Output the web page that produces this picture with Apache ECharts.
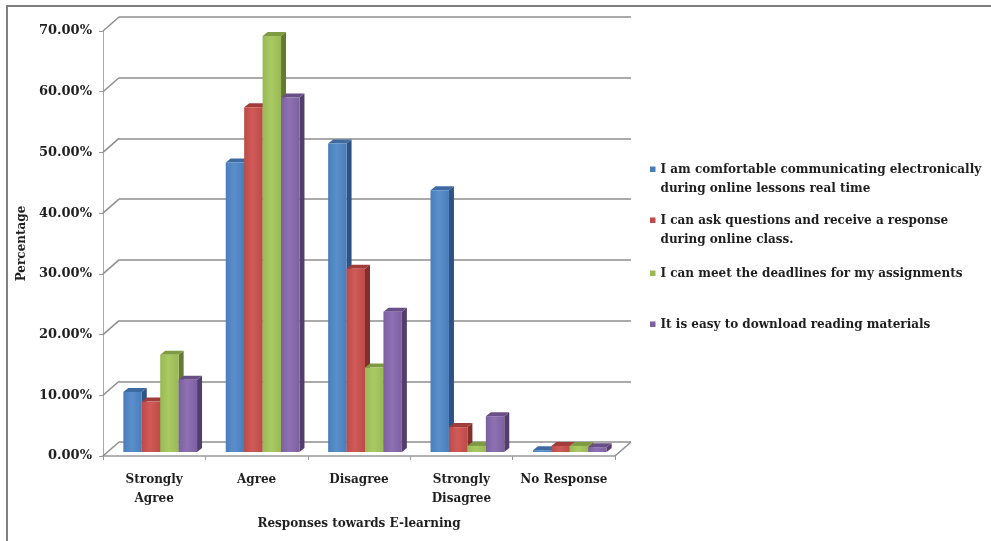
<!DOCTYPE html>
<html>
<head>
<meta charset="utf-8">
<script src="https://cdn.jsdelivr.net/npm/echarts@6/dist/echarts.min.js"></script>
<style>
  html, body { margin: 0; padding: 0; background: #ffffff; }
  #chart { width: 991px; height: 541px; }
</style>
</head>
<body>
<div id="chart"></div>
<script>
// Survey responses about e-learning (percent of respondents)
const categories = ['Strongly\nAgree', 'Agree', 'Disagree', 'Strongly\nDisagree', 'No Response'];
const seriesNames = [
  'I am comfortable communicating electronically\nduring online lessons real time',
  'I can ask questions and receive a response\nduring online class.',
  'I can meet the deadlines for my assignments',
  'It is easy to download reading materials'
];
const comfortable   = [9.9, 47.7, 50.8, 43.1, 0.3];
const askQuestions  = [8.3, 56.8, 30.2, 4.1, 1.0];
const meetDeadlines = [16.0, 68.5, 13.9, 1.0, 1.0];
const easyDownload  = [11.9, 58.4, 23.1, 5.9, 0.8];
const yTicks = [0, 10, 20, 30, 40, 50, 60, 70];

const seriesValues = [comfortable, askQuestions, meetDeadlines, easyDownload];
// front / top / side shades for each series
const palette = [
  { front: '#4a7ebb', light: '#5b8fcc', top: '#3d6aa0', side: '#2e5283' },
  { front: '#be4b48', light: '#d05a57', top: '#a03d3a', side: '#822f2d' },
  { front: '#98b954', light: '#a9ca63', top: '#7e9a43', side: '#627a32' },
  { front: '#7d60a0', light: '#8e71b2', top: '#684f87', side: '#523d6c' }
];

const FONT = 'DejaVu Serif';
const TEXT = '#1f1f1f';
const GRID_COLOR = '#8e8e8e';

// 3D look: back wall offset from the front plane, and bar depth
const WALL_DX = 16, WALL_DY = 14;
const BAR_DX = 5, BAR_DY = 4;
const BAR_PITCH = 0.18;   // share of a category band per bar

const chart = echarts.init(document.getElementById('chart'), null, { renderer: 'canvas' });

function barRenderer(k) {
  const c = palette[k];
  return function (params, api) {
    const cat = api.value(0);
    const v = api.value(1);
    const base = api.coord([cat, 0]);
    const top = api.coord([cat, v]);
    const band = api.size([1, 0])[0];
    const w = band * BAR_PITCH;
    const x0 = base[0] - 2 * w + k * w;
    const x1 = x0 + w;
    const yt = top[1], yb = base[1];
    return {
      type: 'group',
      children: [
        {
          type: 'polygon',
          shape: { points: [[x1, yt], [x1 + BAR_DX, yt - BAR_DY], [x1 + BAR_DX, yb - BAR_DY], [x1, yb]] },
          style: { fill: c.side }
        },
        {
          type: 'polygon',
          shape: { points: [[x0, yt], [x0 + BAR_DX, yt - BAR_DY], [x1 + BAR_DX, yt - BAR_DY], [x1, yt]] },
          style: { fill: c.top }
        },
        {
          type: 'rect',
          shape: { x: x0, y: yt, width: w, height: Math.max(yb - yt, 0) },
          style: {
            fill: new echarts.graphic.LinearGradient(0, 0, 1, 0, [
              { offset: 0, color: c.front },
              { offset: 0.45, color: c.light },
              { offset: 1, color: c.front }
            ])
          }
        }
      ]
    };
  };
}

// legend icon: small square beside the first text line
const LINE_H = 19;
function legendIcon(lines) {
  const h = LINE_H * lines;
  return 'path://M0,6.5H5.5V12H0Z M0,0H0.01V0.01H0Z M0,' + h + 'H0.01V' + (h - 0.01) + 'H0Z';
}
const legendTops = [160, 211, 264, 315];
const legends = seriesNames.map((name, i) => {
  const lines = name.split('\n').length;
  return {
    data: [name],
    left: 650,
    top: legendTops[i],
    padding: 0,
    orient: 'vertical',
    icon: legendIcon(lines),
    itemWidth: 5.5,
    itemHeight: LINE_H * lines,
    selectedMode: false,
    textStyle: { fontFamily: FONT, fontWeight: 'bold', fontSize: 12, color: TEXT, lineHeight: LINE_H }
  };
});

const axisTextStyle = { fontFamily: FONT, fontWeight: 'bold', fontSize: 12, color: TEXT };

const option = {
  animation: false,
  backgroundColor: '#ffffff',
  graphic: [{
    type: 'rect',
    shape: { x: 7, y: 6, width: 1200, height: 800 },
    style: { fill: null, stroke: '#808080', lineWidth: 2 },
    silent: true,
    z: 100
  }],
  legend: legends,
  grid: [
    // front plane: axis labels and floor edge
    { left: 103, top: 31, width: 512, height: 425 },
    // back wall: gridlines
    { left: 103 + WALL_DX, top: 31 - WALL_DY, width: 512, height: 425 },
    // bars sit part way back
    { left: 109, top: 27, width: 512, height: 425 }
  ],
  xAxis: [
    {
      gridIndex: 0,
      type: 'category',
      data: categories,
      boundaryGap: true,
      name: 'Responses towards E-learning',
      nameLocation: 'middle',
      nameGap: 62,
      nameTextStyle: axisTextStyle,
      axisLine: { lineStyle: { color: '#9a9a9a', width: 1.5 } },
      axisTick: { show: true, length: 4, alignWithLabel: false, lineStyle: { color: '#9a9a9a' } },
      axisLabel: Object.assign({ margin: 14, lineHeight: LINE_H, interval: 0 }, axisTextStyle),
      splitLine: { show: false }
    },
    { gridIndex: 1, type: 'category', data: categories, show: false },
    { gridIndex: 2, type: 'category', data: categories, show: false }
  ],
  yAxis: [
    {
      gridIndex: 0,
      type: 'value',
      min: 0, max: 70, interval: 10,
      name: 'Percentage',
      nameLocation: 'middle',
      nameRotate: 90,
      nameGap: 75,
      nameTextStyle: axisTextStyle,
      axisLine: { show: true, lineStyle: { color: '#a8a8a8', width: 1 } },
      axisTick: { show: true, length: 4, lineStyle: { color: '#9a9a9a' } },
      axisLabel: Object.assign({}, axisTextStyle, { margin: 11, fontSize: 13, formatter: v => v.toFixed(2) + '%' }),
      splitLine: { show: false }
    },
    {
      gridIndex: 1,
      type: 'value',
      min: 0, max: 70, interval: 10,
      axisLine: { show: false },
      axisTick: { show: false },
      axisLabel: { show: false },
      splitLine: { show: true, lineStyle: { color: GRID_COLOR, width: 1.5 } }
    },
    { gridIndex: 2, type: 'value', min: 0, max: 70, interval: 10, show: false, splitLine: { show: false } }
  ],
  series: [
    // wall edge diagonals at each tick, plus the floor's right edge
    {
      type: 'custom',
      xAxisIndex: 1,
      yAxisIndex: 1,
      silent: true,
      z: 1,
      data: yTicks.map(v => [0, v]),
      renderItem: function (params, api) {
        const cs = params.coordSys;
        const y = api.coord([0, api.value(1)])[1];
        const children = [{
          type: 'line',
          shape: { x1: cs.x, y1: y, x2: cs.x - WALL_DX, y2: y + WALL_DY },
          style: { stroke: GRID_COLOR, lineWidth: 1.5 }
        }];
        if (api.value(1) === 0) {
          children.push({
            type: 'line',
            shape: { x1: cs.x + cs.width, y1: y, x2: cs.x + cs.width - WALL_DX, y2: y + WALL_DY },
            style: { stroke: GRID_COLOR, lineWidth: 1.5 }
          });
        }
        return { type: 'group', children: children };
      }
    }
  ].concat(seriesValues.map((vals, k) => ({
    type: 'custom',
    name: seriesNames[k],
    xAxisIndex: 2,
    yAxisIndex: 2,
    z: 3,
    itemStyle: { color: palette[k].front },
    encode: { x: 0, y: 1 },
    data: vals.map((v, i) => [i, v]),
    renderItem: barRenderer(k)
  })))
};

chart.setOption(option);
</script>
</body>
</html>
